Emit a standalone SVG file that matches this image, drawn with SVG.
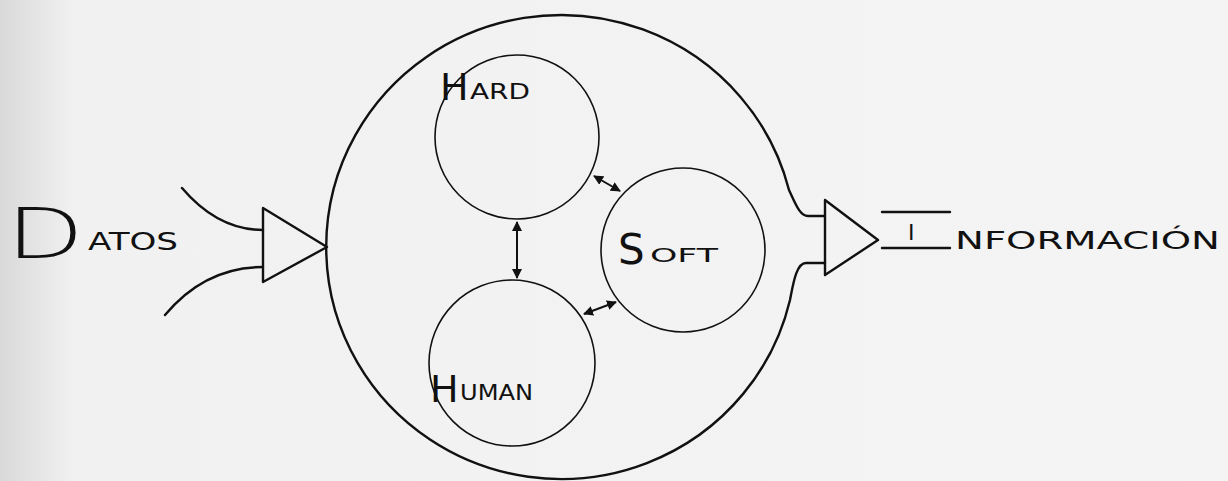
<svg xmlns="http://www.w3.org/2000/svg" width="1228" height="481" viewBox="0 0 1228 481">
<defs>
<linearGradient id="bg" x1="0" y1="0" x2="1" y2="0">
<stop offset="0" stop-color="#d9d9d9"/>
<stop offset="0.06" stop-color="#f1f1f1"/>
<stop offset="1" stop-color="#f4f4f4"/>
</linearGradient>
<marker id="ah" viewBox="0 0 10 10" refX="9" refY="5" markerWidth="5" markerHeight="5" orient="auto-start-reverse">
<path d="M0,0 L10,5 L0,10 z" fill="#111"/>
</marker>
<style>
.ln{fill:none;stroke:#111;stroke-width:2.4;stroke-linecap:round;stroke-linejoin:round}
.thin{fill:none;stroke:#111;stroke-width:1.6}
.con{fill:none;stroke:#111;stroke-width:2;marker-start:url(#ah);marker-end:url(#ah)}
.lbl{font-family:"DejaVu Sans","Liberation Sans",sans-serif;fill:#111}
</style>
</defs>
<rect width="1228" height="481" fill="url(#bg)"/>
<g id="system">
<path class="ln" d="M825,216 L808,216 C800,216 796,205 789,190 A235 232 0 1 0 790,300 C793,285 796,263 806,263 L825,263"/>
</g>
<g id="input">
<path class="ln" d="M182,188 C205,215 232,230 263,230"/>
<path class="ln" d="M165,315 C190,285 222,267 263,267"/>
<path class="ln" d="M263,208 L327,247 L263,282 Z"/>
<text class="lbl"><tspan x="6" y="258" font-size="70" font-weight="200" textLength="78" lengthAdjust="spacingAndGlyphs">D</tspan><tspan x="88" y="250" font-size="24" textLength="90" lengthAdjust="spacingAndGlyphs">ATOS</tspan></text>
</g>
<g id="output">
<path class="ln" d="M825,200 L878,240 L825,275 Z"/>
<line class="ln" x1="882" y1="212" x2="950" y2="212"/>
<line class="ln" x1="882" y1="248" x2="950" y2="248"/>
<text class="lbl" x="908" y="240" font-size="22">I</text>
<text class="lbl" x="955" y="249" font-size="24" textLength="265" lengthAdjust="spacingAndGlyphs">NFORMACIÓN</text>
</g>
<g id="hard">
<circle class="thin" cx="517" cy="137" r="82"/>
<text class="lbl"><tspan x="440" y="100" font-size="38">H</tspan><tspan x="470" y="99" font-size="22" textLength="60" lengthAdjust="spacingAndGlyphs">ARD</tspan></text>
</g>
<g id="soft">
<circle class="thin" cx="683" cy="250" r="82"/>
<text class="lbl"><tspan x="618" y="264" font-size="42">S</tspan><tspan x="650" y="262" font-size="20" textLength="68" lengthAdjust="spacingAndGlyphs">OFT</tspan></text>
</g>
<g id="human">
<circle class="thin" cx="512" cy="363" r="83"/>
<text class="lbl"><tspan x="430" y="402" font-size="38">H</tspan><tspan x="460" y="400" font-size="22" textLength="73" lengthAdjust="spacingAndGlyphs">UMAN</tspan></text>
</g>
<g id="connectors">
<path class="con" d="M517,222 L517,278"/>
<path class="con" d="M594,176 L620,191"/>
<path class="con" d="M616,302 L584,314"/>
</g>
</svg>
